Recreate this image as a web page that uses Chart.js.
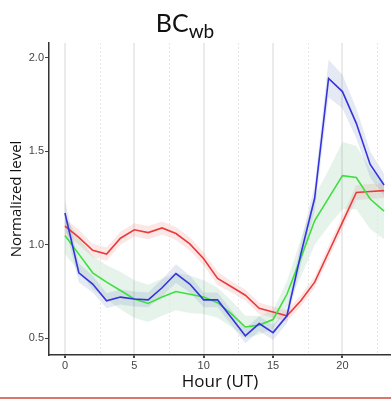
<!DOCTYPE html>
<html>
<head>
<meta charset="utf-8">
<script src="https://cdn.jsdelivr.net/npm/chart.js@4"></script>
<style>
  html, body { margin: 0; padding: 0; background: #fff; }
  #wrap { position: relative; width: 391px; height: 402px; overflow: hidden; }
  #title {
    position: absolute; left: 0; width: 391px; top: 7px; text-align: center;
    font-family: Lato, "Open Sans", sans-serif; font-size: 25px; color: #111;
    padding-right: 21px; box-sizing: border-box; line-height: 30px;
  }
  #title sub { font-size: 19px; vertical-align: -6px; line-height: 0; }
  #rule { position: absolute; left: 0; top: 397px; width: 391px; height: 2px; background: #d9776c; }
</style>
</head>
<body>
<div id="wrap">
  <canvas id="chart" width="391" height="402"></canvas>
  <div id="title">BC<sub>wb</sub></div>
  <div id="rule"></div>
</div>
<script>
// jam 0..23
const hours = [0,1,2,3,4,5,6,7,8,9,10,11,12,13,14,15,16,17,18,19,20,21,22,23];
const yTicks = [0.5, 1.0, 1.5, 2.0];
const xTicks = [0, 5, 10, 15, 20];
const xMinor = [2.5, 7.5, 12.5, 17.5, 22.5];

// nilai tiap seri
const blueVals  = [1.17,0.85,0.79,0.70,0.72,0.71,0.705,0.77,0.846,0.79,0.705,0.705,0.61,0.513,0.578,0.53,0.62,0.95,1.25,1.89,1.82,1.65,1.43,1.32];
const redVals   = [1.10,1.04,0.97,0.95,1.035,1.08,1.065,1.09,1.06,1.005,0.925,0.82,0.775,0.73,0.66,0.64,0.62,0.70,0.80,0.96,1.12,1.28,1.285,1.29];
const greenVals = [1.05,0.95,0.85,0.80,0.755,0.71,0.686,0.72,0.75,0.735,0.72,0.69,0.63,0.56,0.57,0.60,0.735,0.93,1.13,1.25,1.37,1.36,1.245,1.18];

// lebar pita (setengah) tiap seri
const blueSpread  = [0.07,0.05,0.045,0.04,0.04,0.04,0.04,0.045,0.05,0.045,0.04,0.04,0.04,0.04,0.04,0.04,0.04,0.06,0.07,0.10,0.09,0.08,0.07,0.06];
const redSpread   = [0.04,0.04,0.035,0.035,0.035,0.035,0.035,0.035,0.035,0.035,0.035,0.035,0.03,0.03,0.03,0.03,0.03,0.03,0.03,0.035,0.035,0.04,0.04,0.04];
const greenSpread = [0.10,0.09,0.09,0.09,0.10,0.10,0.10,0.10,0.10,0.10,0.09,0.08,0.07,0.06,0.05,0.05,0.07,0.10,0.13,0.15,0.18,0.17,0.16,0.15];

const pts = (vals, off = []) => hours.map((h, i) => ({ x: h, y: vals[i] + (off[i] || 0) }));
const neg = arr => arr.map(v => -v);

function band(vals, spread, fill) {
    return [
        { data: pts(vals, spread), borderWidth: 0, pointRadius: 0, fill: false, order: 10 },
        { data: pts(vals, neg(spread)), borderWidth: 0, pointRadius: 0, fill: '-1', backgroundColor: fill, order: 10 }
    ];
}
function line(vals, color) {
    return { data: pts(vals), borderColor: color, borderWidth: 1.6, pointRadius: 0, fill: false, tension: 0, order: 1 };
}

// garis grid minor (putus-putus)
const minorGrid = {
    id: 'minorGrid',
    beforeDatasetsDraw(chart) {
        const { ctx, chartArea, scales } = chart;
        ctx.save();
        ctx.strokeStyle = '#e6e6e6';
        ctx.lineWidth = 1;
        ctx.setLineDash([2, 2]);
        xMinor.forEach(v => {
            const x = Math.round(scales.x.getPixelForValue(v)) + 0.5;
            ctx.beginPath();
            ctx.moveTo(x, chartArea.top);
            ctx.lineTo(x, chartArea.bottom);
            ctx.stroke();
        });
        ctx.restore();
    }
};

new Chart(document.getElementById('chart').getContext('2d'), {
    type: 'line',
    data: {
        datasets: [
            ...band(blueVals, blueSpread, 'rgba(100,125,190,0.17)'),
            ...band(greenVals, greenSpread, 'rgba(110,190,140,0.18)'),
            ...band(redVals, redSpread, 'rgba(240,110,110,0.17)'),
            line(blueVals, '#3434dc'),
            line(greenVals, '#3de03d'),
            line(redVals, '#e83c3c')
        ]
    },
    options: {
        responsive: false,
        animation: false,
        layout: { padding: { top: 43, right: 0, bottom: 0, left: 0 } },
        plugins: {
            legend: { display: false },
            tooltip: { enabled: false },
            filler: { drawTime: 'beforeDatasetsDraw' }
        },
        scales: {
            x: {
                type: 'linear',
                min: -1.15,
                max: 23.5,
                afterBuildTicks: s => { s.ticks = xTicks.map(v => ({ value: v })); },
                afterFit: s => { s.height = 47; },
                ticks: { color: '#444', font: { family: 'Liberation Sans', size: 11 }, padding: 1, maxRotation: 0 },
                grid: { color: '#ebebeb', lineWidth: 2, drawTicks: true, tickLength: 3, tickColor: '#444' },
                border: { color: '#333', width: 1.5 },
                title: { display: true, text: 'Hour (UT)', color: '#111', font: { family: 'Open Sans', size: 17 }, padding: { top: 10, bottom: 10 } }
            },
            y: {
                min: 0.41,
                max: 2.08,
                afterBuildTicks: s => { s.ticks = yTicks.map(v => ({ value: v })); },
                afterFit: s => { s.width = 49; },
                ticks: { color: '#444', font: { family: 'Liberation Sans', size: 11 }, padding: 1, callback: v => v.toFixed(1) },
                grid: { color: 'rgba(0,0,0,0)', drawTicks: true, tickLength: 4, tickColor: '#444' },
                border: { color: '#333', width: 1.5 },
                title: { display: true, text: 'Normalized level', color: '#111', font: { family: 'Open Sans', size: 15 }, padding: { top: 8, bottom: 8 } }
            }
        }
    },
    plugins: [minorGrid]
});
</script>
</body>
</html>
